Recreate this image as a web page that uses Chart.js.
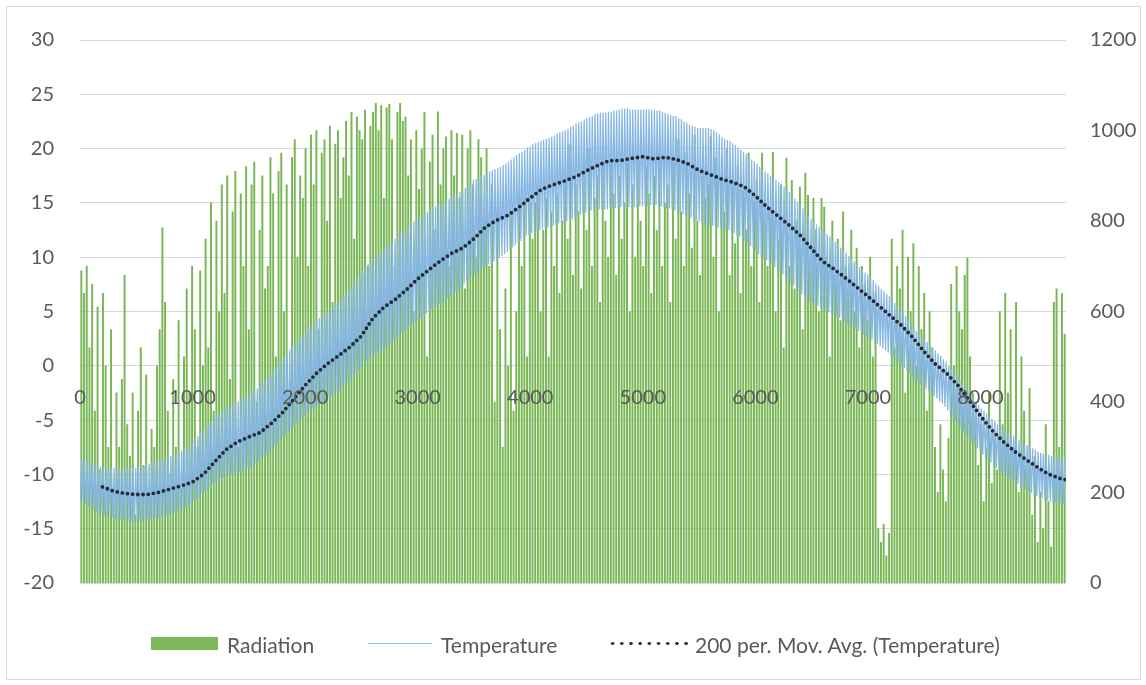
<!DOCTYPE html>
<html lang="en">
<head>
<meta charset="UTF-8">
<title>Radiation and Temperature</title>
<script src="https://cdn.jsdelivr.net/npm/chart.js"></script>
<style>
  body { margin: 0; background: #fff; }
  #wrap { position: relative; width: 1146px; height: 685px; font-family: Lato, sans-serif; color: #595959; }
  #frame { position: absolute; left: 6px; top: 6px; width: 1133px; height: 672px; border: 1px solid #d9d9d9; pointer-events: none; }
  .lg { position: absolute; }
  .txt { top: 633px; font-size: 21px; line-height: 24px; white-space: nowrap; }
</style>
</head>
<body>
<div id="wrap">
  <canvas id="chart" width="1146" height="685"></canvas>
  <div id="frame"></div>
  <div class="lg" style="left:151px; top:637px; width:67px; height:13px; background:#7cb95a;"></div>
  <div class="lg txt" style="left:227px;">Radiation</div>
  <div class="lg" style="left:368px; top:643px; width:64px; height:1px; background:#92bfe6;"></div>
  <div class="lg txt" style="left:441px;">Temperature</div>
  <div class="lg" style="left:608px; top:640px; width:83px; height:7px; background-image:radial-gradient(circle, #2b3441 1.4px, transparent 1.9px); background-size:9.2px 7px;"></div>
  <div class="lg txt" style="left:695px;">200 per. Mov. Avg. (Temperature)</div>
</div>

<script>
// daily maximum / minimum temperature (one value per day, 365 days)
const tempHigh = [
  -8.5, -8.6, -8.7, -8.9, -9.0,  -9.2, -9.2, -9.3, -9.3, -9.4,  -9.4, -9.4, -9.4, -9.5, -9.5,
  -9.5, -9.4, -9.4, -9.4, -9.4,  -9.4, -9.3, -9.2, -9.2, -9.1,  -9.0, -8.9, -8.9, -8.8, -8.7,
  -8.6, -8.5, -8.4, -8.3, -8.2,  -8.1, -8.0, -7.8, -7.7, -7.5,  -7.4, -7.1, -6.8, -6.5, -6.2,
  -6.0, -5.7, -5.4, -5.1, -4.8,  -4.5, -4.4, -4.2, -4.0, -3.8,  -3.7, -3.5, -3.4, -3.3, -3.1,
  -3.0, -2.8, -2.6, -2.4, -2.2,  -2.1, -1.8, -1.5, -1.3, -1.0,  -0.8, -0.5, -0.1, 0.2, 0.5,
  0.8, 1.1, 1.5, 1.8, 2.1,  2.4, 2.7, 2.9, 3.2, 3.5,  3.7, 3.9, 4.2, 4.4, 4.6,
  4.8, 5.0, 5.2, 5.5, 5.7,  5.9, 6.2, 6.4, 6.7, 7.0,  7.2, 7.6, 8.0, 8.4, 8.7,
  9.1, 9.4, 9.6, 9.8, 10.1,  10.3, 10.5, 10.8, 11.0, 11.2,  11.4, 11.7, 11.9, 12.2, 12.4,
  12.7, 12.9, 13.1, 13.3, 13.5,  13.7, 13.9, 14.0, 14.2, 14.4,  14.6, 14.7, 14.8, 15.0, 15.1,
  15.2, 15.4, 15.5, 15.7, 15.8,  16.0, 16.2, 16.4, 16.6, 16.9,  17.1, 17.2, 17.3, 17.5, 17.6,
  17.8, 17.9, 18.0, 18.1, 18.2,  18.3, 18.5, 18.6, 18.8, 19.0,  19.2, 19.4, 19.6, 19.7, 19.9,
  20.1, 20.2, 20.4, 20.5, 20.6,  20.7, 20.8, 20.9, 21.0, 21.1,  21.2, 21.4, 21.5, 21.6, 21.7,
  21.8, 22.0, 22.1, 22.3, 22.4,  22.5, 22.7, 22.8, 22.9, 23.0,  23.2, 23.2, 23.3, 23.3, 23.3,
  23.4, 23.4, 23.5, 23.5, 23.6,  23.7, 23.7, 23.7, 23.6, 23.6,  23.6, 23.6, 23.6, 23.6, 23.6,
  23.6, 23.6, 23.5, 23.5, 23.5,  23.4, 23.3, 23.2, 23.1, 23.0,  23.0, 22.8, 22.7, 22.5, 22.4,
  22.2, 22.1, 22.0, 21.9, 21.9,  21.9, 21.9, 21.9, 21.8, 21.7,  21.5, 21.3, 21.1, 20.9, 20.8,
  20.7, 20.5, 20.3, 20.1, 19.9,  19.7, 19.5, 19.3, 19.0, 18.8,  18.6, 18.3, 18.1, 17.9, 17.7,
  17.5, 17.3, 17.1, 16.9, 16.7,  16.5, 16.3, 16.0, 15.7, 15.4,  15.1, 14.8, 14.5, 14.2, 13.8,
  13.5, 13.3, 13.0, 12.8, 12.6,  12.4, 12.1, 11.9, 11.6, 11.4,  11.2, 10.9, 10.6, 10.4, 10.1,
  9.9, 9.6, 9.4, 9.1, 8.9,  8.6, 8.4, 8.1, 7.9, 7.6,  7.4, 7.1, 6.9, 6.6, 6.4,
  6.1, 5.8, 5.5, 5.2, 4.9,  4.6, 4.2, 3.9, 3.6, 3.2,  2.9, 2.7, 2.4, 2.2, 1.9,
  1.6, 1.4, 1.1, 0.9, 0.6,  0.4, 0.0, -0.3, -0.6, -1.0,  -1.3, -1.6, -2.0, -2.3, -2.6,
  -3.0, -3.3, -3.6, -3.9, -4.1,  -4.4, -4.7, -4.9, -5.1, -5.4,  -5.6, -5.8, -6.0, -6.2, -6.3,
  -6.5, -6.7, -6.8, -7.0, -7.2,  -7.3, -7.5, -7.6, -7.7, -7.9,  -8.0, -8.1, -8.2, -8.2, -8.3,
  -8.4, -8.4, -8.4, -8.5, -8.5
];
const tempLow = [
  -12.4, -12.6, -12.8, -12.9, -13.1,  -13.3, -13.4, -13.6, -13.7, -13.8,  -13.9, -13.9, -14.0, -14.1, -14.1,
  -14.2, -14.2, -14.2, -14.3, -14.3,  -14.4, -14.3, -14.3, -14.3, -14.2,  -14.2, -14.1, -14.1, -14.0, -14.0,
  -13.9, -13.8, -13.8, -13.7, -13.7,  -13.6, -13.5, -13.3, -13.2, -13.1,  -13.0, -12.7, -12.5, -12.3, -12.1,
  -11.8, -11.6, -11.4, -11.2, -10.9,  -10.7, -10.6, -10.4, -10.3, -10.2,  -10.1, -10.0, -9.9, -9.8, -9.8,
  -9.7, -9.6, -9.4, -9.3, -9.2,  -9.0, -8.8, -8.6, -8.4, -8.2,  -8.0, -7.7, -7.4, -7.2, -6.9,
  -6.6, -6.4, -6.1, -5.8, -5.6,  -5.3, -5.1, -4.9, -4.6, -4.4,  -4.2, -4.0, -3.9, -3.7, -3.5,
  -3.3, -3.2, -3.0, -2.8, -2.7,  -2.5, -2.3, -2.0, -1.8, -1.6,  -1.4, -1.0, -0.7, -0.4, -0.1,
  0.3, 0.4, 0.6, 0.8, 1.0,  1.2, 1.4, 1.5, 1.7, 1.9,  2.1, 2.3, 2.5, 2.7, 3.0,
  3.2, 3.4, 3.6, 3.8, 4.0,  4.2, 4.4, 4.6, 4.8, 5.0,  5.2, 5.3, 5.5, 5.7, 5.8,
  6.0, 6.2, 6.4, 6.6, 6.8,  7.0, 7.2, 7.5, 7.7, 8.0,  8.3, 8.4, 8.6, 8.8, 9.0,
  9.2, 9.3, 9.4, 9.6, 9.7,  9.9, 10.1, 10.3, 10.5, 10.7,  10.9, 11.1, 11.3, 11.5, 11.7,
  12.0, 12.1, 12.2, 12.3, 12.4,  12.5, 12.6, 12.7, 12.7, 12.8,  12.9, 13.0, 13.1, 13.1, 13.2,
  13.3, 13.4, 13.5, 13.7, 13.8,  13.9, 14.0, 14.1, 14.2, 14.3,  14.4, 14.4, 14.4, 14.4, 14.4,
  14.4, 14.5, 14.5, 14.5, 14.5,  14.6, 14.6, 14.6, 14.6, 14.6,  14.6, 14.6, 14.7, 14.7, 14.7,
  14.7, 14.8, 14.8, 14.8, 14.7,  14.7, 14.6, 14.5, 14.5, 14.4,  14.3, 14.2, 14.1, 13.9, 13.8,
  13.7, 13.6, 13.5, 13.4, 13.3,  13.2, 13.1, 13.0, 12.9, 12.9,  12.8, 12.7, 12.7, 12.6, 12.5,
  12.5, 12.3, 12.2, 12.0, 11.9,  11.7, 11.5, 11.3, 11.0, 10.8,  10.6, 10.3, 10.1, 9.9, 9.7,
  9.5, 9.3, 9.1, 8.8, 8.6,  8.4, 8.1, 7.9, 7.6, 7.4,  7.1, 6.9, 6.6, 6.4, 6.1,
  5.9, 5.8, 5.6, 5.5, 5.4,  5.2, 5.1, 4.9, 4.8, 4.6,  4.5, 4.4, 4.2, 4.0, 3.9,
  3.7, 3.6, 3.4, 3.2, 3.1,  2.9, 2.7, 2.5, 2.4, 2.2,  2.0, 1.8, 1.6, 1.4, 1.2,
  1.0, 0.8, 0.5, 0.3, 0.0,  -0.2, -0.5, -0.7, -1.0, -1.3,  -1.5, -1.7, -1.9, -2.1, -2.3,
  -2.6, -2.8, -3.0, -3.3, -3.5,  -3.8, -4.1, -4.4, -4.8, -5.1,  -5.4, -5.8, -6.1, -6.4, -6.7,
  -7.1, -7.3, -7.6, -7.9, -8.2,  -8.5, -8.7, -8.9, -9.1, -9.4,  -9.6, -9.8, -10.0, -10.2, -10.4,
  -10.6, -10.7, -10.9, -11.1, -11.3,  -11.4, -11.6, -11.7, -11.9, -12.0,  -12.2, -12.2, -12.3, -12.4, -12.5,
  -12.6, -12.6, -12.6, -12.7, -12.7
];

// daily peak radiation (right axis), one value per day
const radiation = [
  690, 640, 700, 520, 660, 380, 610, 250, 640, 480, 300, 560, 200, 420,
  300, 450, 680, 350,
  280, 420, 150, 380, 520, 260, 460, 200, 340,
  300, 480, 560, 785, 620, 380, 240,
  450, 300, 580, 210, 500,
  650, 420, 700, 560, 300, 690, 480,
  760, 520, 840, 380, 800, 600,
  880, 640, 900, 450, 820, 910, 300, 860, 700,
  920, 560, 880, 930, 400, 780, 900, 650,
  700, 940, 860, 500, 910, 950, 600, 880, 420, 940, 980, 720, 900, 850,
  960, 700, 990, 880, 1000, 560, 950, 980, 800, 1010, 620, 970, 1000, 850, 940,
  1020, 900, 1040, 760, 1030, 1000, 980, 1045, 700, 1010, 1040,
  1060, 1000, 1055, 850, 1050, 1058, 980, 700, 1040, 1060, 1020,
  1030, 900, 980, 600, 1000, 870, 960, 1040, 500, 930, 990, 780, 1041, 880, 960,
  986, 700, 1000, 900, 994, 850, 990, 650, 960, 1000, 880, 720, 980, 940, 800,
  960, 700, 880, 400, 820, 560, 300, 650, 480, 820, 380, 600, 860, 700, 850, 500, 840, 760,
  840, 860, 600, 780, 850, 500, 820, 700, 860, 640, 800,
  900, 760, 970, 680, 880, 820, 650, 940, 780, 960, 700, 850, 900, 620, 940, 800, 720, 930, 860, 680,
  900, 760, 840, 930, 600, 880, 720, 950, 800, 700, 920, 860, 640, 900, 780, 950, 700, 840, 880, 620,
  930, 760, 980, 820, 700, 950, 860, 740, 990, 800, 680, 920, 850,
  880, 986, 720, 940, 600, 900, 820, 960, 680, 880, 750, 920, 640, 860, 780, 950, 700, 840, 890, 620,
  950, 800,
  700, 820, 952, 600, 760, 880, 520, 939, 700, 890, 650, 800, 875, 560, 906,
  857, 700, 850, 780, 600, 850, 831, 720, 500, 800, 680, 760, 580, 820, 700, 640, 780, 600, 740, 520,
  700, 660, 580, 720, 500, 640,
  120, 90, 130, 60, 110,
  760, 520, 700, 650, 780, 420, 720, 600, 750, 480, 700, 560, 640, 380, 600, 520,
  300, 200, 350, 250, 180, 320, 660, 480, 700, 600, 560, 680, 718, 500, 420,
  400, 260, 350, 180, 300, 420, 220, 330, 250,
  600, 350, 640, 420, 560, 300, 620, 200, 500, 380, 250,
  430, 150, 280, 90, 200, 120, 350, 180, 80, 620, 650, 300, 640, 550
];

// 200 hour moving average of temperature, read every 100 hours
const avgHours = [
  200, 300, 400, 500, 600, 700, 800, 900, 1000, 1100, 1200, 1300, 1400, 1500, 1600, 1700, 1800, 1900,
  2000, 2100, 2200, 2300, 2400, 2500, 2600, 2700, 2800, 2900, 3000, 3100, 3200, 3300, 3400, 3500,
  3600, 3700, 3800, 3900, 4000, 4100, 4200, 4300, 4400, 4500, 4600, 4700, 4800, 4900, 5000, 5100,
  5200, 5300, 5400, 5500, 5600, 5700, 5800, 5900, 6000, 6100, 6200, 6300, 6400, 6500, 6600, 6700,
  6800, 6900, 7000, 7100, 7200, 7300, 7400, 7500, 7600, 7700, 7800, 7900, 8000, 8100, 8200, 8300,
  8400, 8500, 8600, 8700, 8760
];
const avgTemp = [
  -11.15, -11.55, -11.75, -11.85, -11.85, -11.65, -11.35, -11.05, -10.7, -9.95, -8.8, -7.7, -7.0, -6.55, -6.15, -5.3, -4.3, -3.05,
  -1.8, -0.7, 0.2, 0.95, 1.75, 2.75, 4.35, 5.4, 6.1, 7.0, 8.0, 8.85, 9.65, 10.35, 10.85, 11.7,
  12.75, 13.4, 13.85, 14.6, 15.45, 16.25, 16.65, 17.0, 17.4, 17.95, 18.45, 18.9, 18.9, 19.1, 19.25, 19.05,
  19.2, 19.0, 18.6, 18.0, 17.6, 17.2, 16.9, 16.5, 15.65, 14.65, 13.8, 12.95, 12.0, 10.8, 9.6, 8.9,
  8.1, 7.25, 6.4, 5.5, 4.6, 3.7, 2.6, 1.3, 0.15, -0.7, -1.8, -3.2, -4.6, -5.9, -6.95, -7.85,
  -8.6, -9.3, -9.95, -10.35, -10.5
];

// axis ticks
const xTicks = [0, 1000, 2000, 3000, 4000, 5000, 6000, 7000, 8000];
const hoursInYear = 8760;
const fontFamily = 'Lato, sans-serif';
const labelColor = '#595959';

// hourly positions: low in the early morning, high in the afternoon
const tempPoints = [];
for (let d = 0; d < tempHigh.length; d++) {
  tempPoints.push({ x: d * 24 + 5, y: tempLow[d] });
  tempPoints.push({ x: d * 24 + 15, y: tempHigh[d] });
}
const radPoints = radiation.map((v, d) => ({ x: d * 24 + 12, y: v }));
const avgPoints = avgHours.map((h, i) => ({ x: h, y: avgTemp[i] }));

Chart.defaults.font.family = fontFamily;
Chart.defaults.color = labelColor;

new Chart(document.getElementById('chart'), {
  type: 'bar',
  data: {
    datasets: [
      {
        type: 'line',
        label: '200 per. Mov. Avg. (Temperature)',
        data: avgPoints,
        yAxisID: 'y',
        borderColor: '#232c3a',
        borderWidth: 3.8,
        borderDash: [0, 5.2],
        borderCapStyle: 'round',
        pointRadius: 0,
        fill: false,
        tension: 0,
        order: 1
      },
      {
        type: 'line',
        label: 'Temperature',
        data: tempPoints,
        yAxisID: 'y',
        borderColor: '#86b6e3',
        borderWidth: 1.25,
        pointRadius: 0,
        fill: false,
        tension: 0,
        order: 2
      },
      {
        type: 'bar',
        label: 'Radiation',
        data: radPoints,
        yAxisID: 'y2',
        backgroundColor: '#78b656',
        borderWidth: 0,
        barThickness: 1.3,
        order: 3
      }
    ]
  },
  options: {
    responsive: false,
    animation: false,
    devicePixelRatio: 1,
    events: [],
    layout: { padding: { top: 40, bottom: 102, left: 0, right: 0 } },
    plugins: { legend: { display: false }, tooltip: { enabled: false } },
    scales: {
      x: {
        type: 'linear',
        min: 0,
        max: hoursInYear,
        offset: false,
        position: { y: 0 },
        grid: { display: false, drawTicks: false },
        border: { display: false },
        afterBuildTicks: s => { s.ticks = xTicks.map(v => ({ value: v })); },
        ticks: {
          autoSkip: false,
          maxRotation: 0,
          padding: 20,
          z: 1,
          font: { size: 20 },
          callback: v => String(v)
        }
      },
      y: {
        type: 'linear',
        position: 'left',
        min: -20,
        max: 30,
        grid: { color: '#d9d9d9', lineWidth: 1, drawTicks: false },
        border: { display: false },
        ticks: { stepSize: 5, padding: 26, font: { size: 20 }, callback: v => String(v) },
        afterFit: s => { s.width = 80; }
      },
      y2: {
        type: 'linear',
        position: 'right',
        min: 0,
        max: 1200,
        grid: { display: false, drawTicks: false },
        border: { display: false },
        ticks: { stepSize: 200, padding: 24, font: { size: 20 }, callback: v => String(v) },
        afterFit: s => { s.width = 80; }
      }
    }
  }
});
</script>
</body>
</html>
